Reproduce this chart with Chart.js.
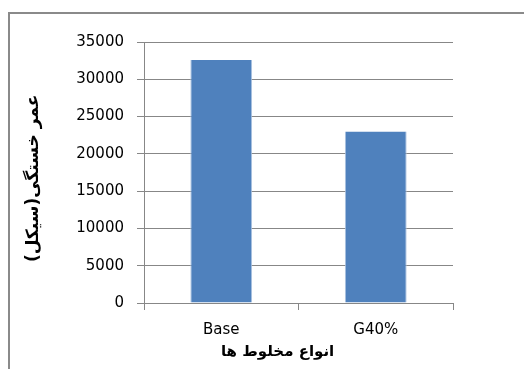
<!DOCTYPE html>
<html>
<head>
<meta charset="utf-8">
<script src="https://cdn.jsdelivr.net/npm/chart.js@4/dist/chart.umd.min.js"></script>
<style>
  html, body { margin: 0; padding: 0; background: #ffffff; }
  #wrap { position: relative; width: 524px; height: 369px; overflow: hidden; }
  #frame { position: absolute; left: 8px; top: 12px; width: 520px; height: 420px; border: 2px solid #8a8a8a; box-sizing: border-box; }
  canvas { position: absolute; left: 0; top: 0; }
</style>
</head>
<body>
<div id="wrap">
  <div id="frame"></div>
  <canvas id="c" width="524" height="369"></canvas>
</div>
<script>
const categories = ['Base', 'G40%'];
const fatigueLife = [32600, 23000];
const yTickValues = [0, 5000, 10000, 15000, 20000, 25000, 30000, 35000];
const xTitle = 'انواع مخلوط ها';
const yTitle = 'عمر خستگی(سیکل)';

const grey = '#878787';

new Chart(document.getElementById('c'), {
  type: 'bar',
  data: {
    labels: categories,
    datasets: [{
      data: fatigueLife,
      backgroundColor: '#4F81BD',
      borderColor: '#a9c1e0',
      borderWidth: { left: 1, right: 1, top: 0, bottom: 0 },
      barPercentage: 0.4,
      categoryPercentage: 1.0
    }]
  },
  options: {
    responsive: false,
    animation: false,
    devicePixelRatio: 1,
    layout: { padding: { left: 0, right: 71, top: 42, bottom: 0 } },
    plugins: { legend: { display: false }, tooltip: { enabled: false } },
    scales: {
      x: {
        offset: true,
        grid: { display: true, drawOnChartArea: false, color: grey, tickLength: 7, offset: true },
        border: { color: grey, width: 1 },
        ticks: { color: '#000', font: { family: 'DejaVu Sans', size: 15 }, padding: 11, maxRotation: 0 },
        title: { display: true, text: xTitle + '        ', color: '#000',
                 font: { family: 'DejaVu Sans', size: 15, weight: 'bold' }, padding: { top: 0, bottom: 8 } },
        afterFit: (s) => { s.height = 66; }
      },
      y: {
        min: 0, max: 35000,
        afterBuildTicks: (s) => { s.ticks = yTickValues.map(v => ({ value: v })); },
        grid: { color: grey, tickLength: 7, lineWidth: 1 },
        border: { color: grey, width: 1 },
        ticks: { color: '#000', font: { family: 'DejaVu Sans', size: 15 }, padding: 13,
                 callback: (v) => String(v) },
        title: { display: true, text: yTitle + '  ', color: '#000',
                 font: { family: 'DejaVu Sans', size: 17, weight: 'bold' }, padding: { top: 23, bottom: 0 } },
        afterFit: (s) => { s.width = 144; }
      }
    }
  }
});
</script>
</body>
</html>
